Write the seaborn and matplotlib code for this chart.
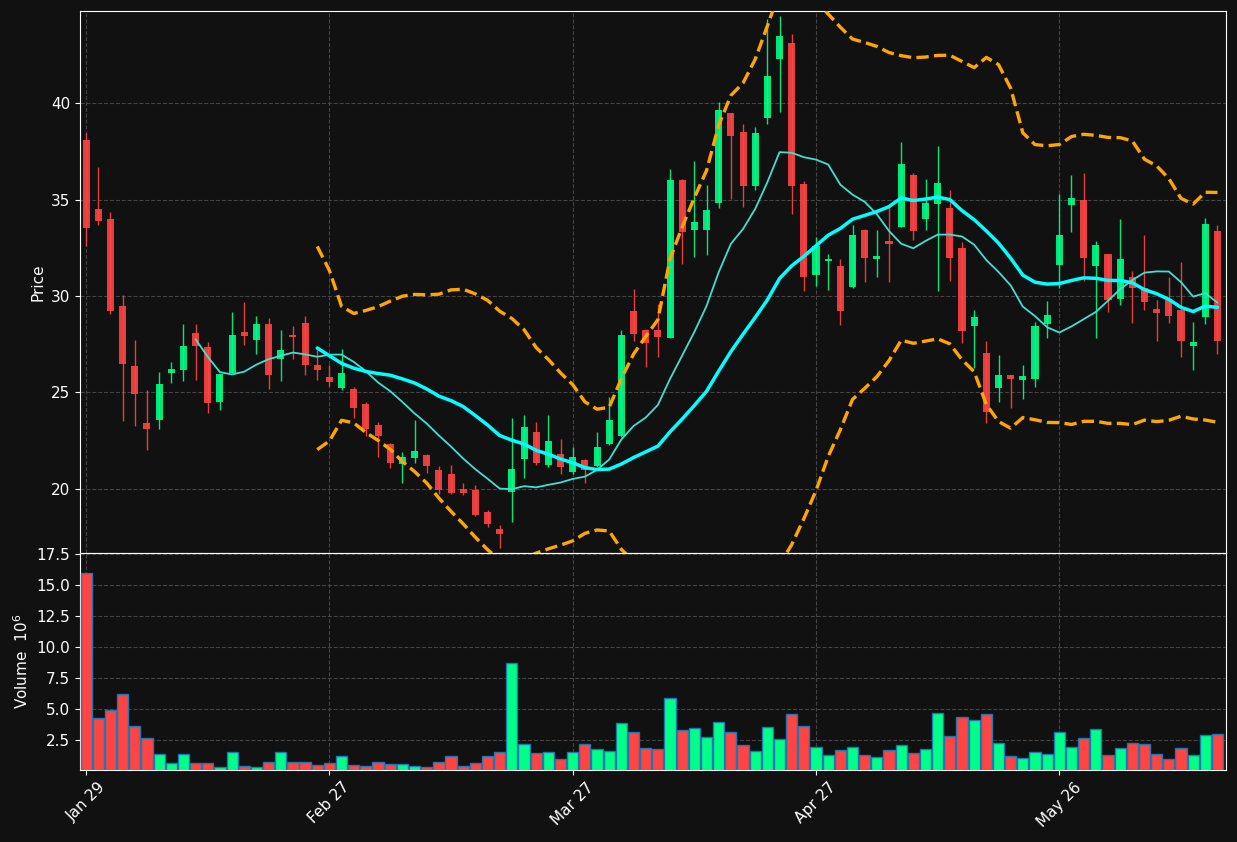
import numpy as np
import pandas as pd
import matplotlib
matplotlib.use('Agg')
import matplotlib.pyplot as plt
import seaborn as sns

# daily OHLC, volume in millions
opens = [38.1, 34.5, 34.0, 29.5, 26.35, 23.4, 23.55, 26.0, 26.15, 28.1,
         27.35, 24.5, 26.0, 28.15, 27.7, 28.55, 26.75, 28.0, 28.6, 26.45,
         25.8, 25.25, 25.2, 24.4, 23.3, 22.35, 21.3, 21.6, 21.75, 21.0,
         20.75, 20.0, 19.95, 18.8, 17.95, 19.85, 21.55, 22.95, 21.25, 21.8,
         20.9, 21.5, 21.2, 22.35, 22.75, 29.2, 28.25, 28.25, 27.85, 36.0,
         33.4, 33.4, 34.8, 39.5, 38.5, 35.7, 39.25, 42.3, 43.1, 35.8,
         31.1, 31.8, 31.55, 30.45, 33.4, 31.9, 32.85, 33.6, 36.25, 34.0,
         34.75, 34.55, 32.5, 28.45, 27.05, 25.25, 25.9, 25.65, 25.7, 28.55,
         31.6, 34.7, 35.0, 31.55, 32.2, 29.85, 31.0, 30.4, 29.35, 29.8,
         29.25, 27.4, 28.9, 33.35]
highs = [38.45, 36.7, 34.35, 30.05, 27.7, 25.15, 26.05, 26.6, 28.55, 28.55,
         27.6, 25.95, 29.15, 29.7, 28.95, 28.85, 28.25, 28.45, 28.95, 27.2,
         26.4, 27.25, 25.3, 24.5, 23.45, 22.4, 21.9, 23.6, 21.8, 21.2,
         21.25, 20.3, 20.2, 18.9, 18.15, 23.7, 23.85, 23.45, 23.85, 22.6,
         22.2, 21.55, 22.95, 24.75, 28.25, 30.35, 28.3, 29.6, 36.6, 36.05,
         37.0, 35.75, 40.05, 39.5, 38.9, 38.75, 44.35, 44.5, 43.6, 35.95,
         33.05, 32.2, 31.9, 33.7, 33.45, 33.4, 34.6, 38.0, 36.4, 36.05,
         37.8, 35.5, 32.8, 29.25, 27.65, 26.95, 25.9, 26.45, 28.65, 29.75,
         35.3, 36.25, 36.35, 32.85, 32.2, 34.0, 31.3, 33.15, 29.8, 31.0,
         31.75, 28.65, 34.05, 33.7]
lows = [32.6, 33.7, 29.05, 23.5, 23.25, 22.0, 23.1, 25.5, 25.6, 25.65,
        23.95, 24.1, 26.0, 27.45, 27.0, 25.2, 25.6, 26.75, 25.9, 25.65,
        25.35, 25.15, 23.7, 22.75, 21.65, 21.1, 20.3, 21.35, 20.85, 19.75,
        19.75, 19.7, 18.6, 18.05, 16.95, 18.3, 20.55, 21.25, 21.15, 20.8,
        20.75, 20.3, 21.15, 22.3, 22.7, 27.65, 26.3, 26.85, 27.8, 31.65,
        32.0, 32.1, 34.55, 35.05, 34.6, 35.5, 38.9, 39.55, 34.25, 30.25,
        30.5, 30.3, 28.5, 30.4, 30.75, 31.0, 30.75, 33.6, 32.9, 33.4,
        30.25, 30.8, 27.55, 26.25, 23.4, 24.5, 24.2, 24.65, 25.3, 27.85,
        30.4, 33.3, 30.8, 27.85, 29.15, 29.55, 28.6, 29.25, 27.65, 28.6,
        26.85, 26.15, 28.55, 27.0]
closes = [33.55, 33.9, 29.2, 26.5, 24.9, 23.1, 25.45, 26.2, 27.4, 27.4,
          24.45, 25.95, 28.0, 27.95, 28.55, 25.9, 27.2, 27.9, 26.45, 26.15,
          25.55, 26.0, 24.2, 23.1, 22.75, 21.35, 21.65, 21.95, 21.2, 19.95,
          19.8, 19.8, 18.65, 18.2, 17.65, 21.05, 23.2, 21.35, 22.5, 21.15,
          21.65, 21.0, 22.15, 23.6, 28.0, 28.05, 27.55, 27.9, 36.0, 33.3,
          33.85, 34.45, 39.65, 38.3, 35.7, 38.45, 41.4, 43.45, 35.7, 31.0,
          32.6, 31.9, 29.2, 33.15, 31.95, 32.05, 32.7, 36.85, 33.35, 34.8,
          35.85, 31.95, 28.2, 28.9, 24.0, 25.9, 25.7, 25.85, 28.45, 29.0,
          33.15, 35.1, 31.95, 32.65, 29.8, 31.9, 30.4, 29.7, 29.1, 28.95,
          27.65, 27.6, 33.75, 27.65]
volumes = [15.97, 4.27, 4.95, 6.21, 3.63, 2.66, 1.37, 0.65, 1.37, 0.65,
           0.65, 0.32, 1.53, 0.40, 0.30, 0.73, 1.53, 0.73, 0.73, 0.48,
           0.65, 1.21, 0.48, 0.40, 0.73, 0.56, 0.56, 0.40, 0.32, 0.73,
           1.21, 0.40, 0.65, 1.21, 1.53, 8.71, 2.18, 1.45, 1.53, 0.97,
           1.53, 2.18, 1.77, 1.61, 3.87, 3.15, 1.85, 1.77, 5.89, 3.31,
           3.47, 2.74, 3.95, 3.15, 2.10, 1.61, 3.55, 2.58, 4.60, 3.63,
           1.94, 1.29, 1.69, 1.94, 1.29, 1.13, 1.69, 2.10, 1.45, 1.77,
           4.68, 2.82, 4.35, 4.11, 4.60, 2.26, 1.21, 1.05, 1.53, 1.37,
           3.15, 1.94, 2.66, 3.39, 1.29, 1.85, 2.26, 2.18, 1.37, 0.97,
           1.85, 1.29, 2.90, 2.98]
tick_days = [0, 20, 40, 60, 80]
tick_labels = ['Jan 29', 'Feb 27', 'Mar 27', 'Apr 27', 'May 26']

df = pd.DataFrame({'Open': opens, 'High': highs, 'Low': lows,
                   'Close': closes, 'Volume': volumes})
df['x'] = np.arange(len(df))
df['SMA10'] = df['Close'].rolling(10).mean()
df['SMA20'] = df['Close'].rolling(20).mean()
std20 = df['Close'].rolling(20).std()
df['BB_up'] = df['SMA20'] + 2 * std20
df['BB_lo'] = df['SMA20'] - 2 * std20

bg = '#111111'
up_col, down_col = '#00ff88', '#ff4444'

sns.set_style('dark', {'axes.facecolor': bg, 'figure.facecolor': bg,
                       'axes.edgecolor': 'white', 'grid.color': '#444444',
                       'grid.linestyle': '--', 'text.color': 'white',
                       'axes.labelcolor': 'white', 'xtick.color': 'white',
                       'ytick.color': 'white', 'xtick.bottom': True,
                       'ytick.left': True})
plt.rcParams['font.family'] = 'DejaVu Sans'

fig = plt.figure(figsize=(12.37, 8.42), dpi=100)
ax = fig.add_axes([0.0647, 0.3432, 0.9264, 0.6437])
axv = fig.add_axes([0.0647, 0.0855, 0.9264, 0.2577], sharex=ax)

is_up = df['Close'] >= df['Open']
cols = np.where(is_up, up_col, down_col)

# candles
ax.vlines(df['x'], df['Low'], df['High'], colors=cols, lw=1, alpha=0.9, zorder=2)
body = (df['Close'] - df['Open']).abs().clip(lower=0.05)
ax.bar(df['x'], body, bottom=df[['Open', 'Close']].min(axis=1), width=0.58,
       color=cols, edgecolor='none', linewidth=0, alpha=0.9, zorder=3)

# moving averages and bands
sns.lineplot(data=df, x='x', y='SMA10', ax=ax, color='#40e0d0', lw=1.3, zorder=4)
sns.lineplot(data=df, x='x', y='SMA20', ax=ax, color='#00ffff', lw=2.5, zorder=5)
for col in ['BB_up', 'BB_lo']:
    sns.lineplot(data=df, x='x', y=col, ax=ax, color='#ffa500', lw=2.4,
                 linestyle='--', dashes=(2.5, 1.5), zorder=4)

# volume
axv.bar(df['x'], df['Volume'], width=0.92, color=cols, edgecolor='#1f77b4',
        linewidth=1, zorder=3)

ax.set_xlim(-0.5, 93.7)
ax.set_ylim(16.68, 44.77)
axv.set_ylim(0.3 * min(volumes), 1.1 * max(volumes))
ax.set_yticks([20, 25, 30, 35, 40])
axv.set_yticks([2.5, 5.0, 7.5, 10.0, 12.5, 15.0, 17.5])

axv.set_xticks(tick_days)
axv.set_xticklabels(tick_labels, rotation=45, ha='center')
ax.tick_params(axis='x', labelbottom=False, length=0)

ax.set_ylabel('Price', fontsize=11)
axv.set_ylabel('Volume  $10^{6}$', fontsize=11)
ax.set_xlabel('')
axv.set_xlabel('')

for a in (ax, axv):
    a.grid(True, color='#444444', linestyle='--', linewidth=0.8)
    a.tick_params(labelsize=11)
    for s in a.spines.values():
        s.set_color('white')

fig.savefig('out.png', dpi=100, facecolor=bg)
